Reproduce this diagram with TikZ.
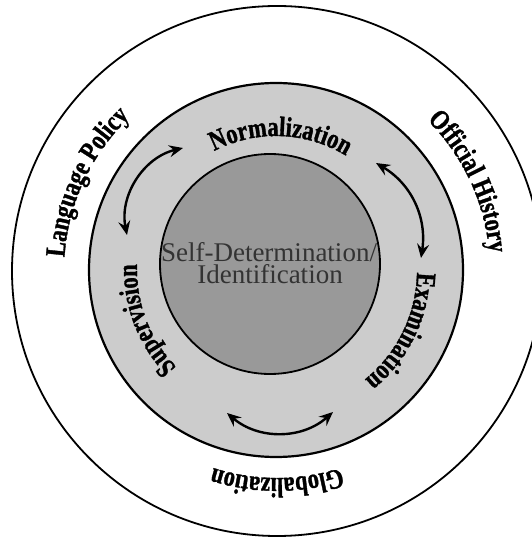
\documentclass[tikz,border=0pt]{standalone}
\usepackage{fontspec}
\setmainfont{Liberation Serif}
\newfontfamily\arcfont{Liberation Serif}[FakeStretch=0.8,FakeBold=1.2]
\newcommand\arctxt{\arcfont\bfseries\fontsize{28}{28}\selectfont}
\usetikzlibrary{decorations.text,arrows.meta}
\begin{document}
\begin{tikzpicture}[x=1pt,y=1pt,
  ring/.style={circle, draw=black, inner sep=0pt, outer sep=0pt},
  arcl/.style={decorate, decoration={text along path, text align=center, text={|\arctxt|#1}}},
  dbl/.style={line width=2.4pt, {Stealth[length=14pt,width=12pt,inset=5pt]}-{Stealth[length=14pt,width=12pt,inset=5pt]}},
  idtext/.style={anchor=base, font=\fontsize{27}{27}\selectfont, text=black!80, inner sep=0pt}
]
\useasboundingbox (0,0) rectangle (532,538);
\clip (0,0) rectangle (532,538);
% rings
\node[ring, line width=1.8pt, fill=white, minimum size=530pt] (outer) at (277,267) {};
\node[ring, line width=2.2pt, fill=black!20, minimum size=374pt] (middle) at (276,268) {};
\node[ring, line width=1.8pt, fill=black!40, minimum size=220pt] (inner) at (270,274) {};
% outer ring labels
\path[arcl={Language Policy}] ([shift={(277,267)}]210:213pt) arc[start angle=210, end angle=100, radius=213pt];
\path[arcl={Official History}] ([shift={(277,267)}]80:213pt) arc[start angle=80, end angle=-30, radius=213pt];
\path[arcl={Globalization}] ([shift={(277,267)}]320:207pt) arc[start angle=320, end angle=220, radius=207pt];
% middle ring labels
\path[arcl={Normalization}] ([shift={(276,268)}]140:134pt) arc[start angle=140, end angle=36, radius=134pt];
\path[arcl={Examination}] ([shift={(276,268)}]25:141pt) arc[start angle=25, end angle=-77, radius=141pt];
\path[arcl={Supervision}] ([shift={(276,268)}]250:139pt) arc[start angle=250, end angle=152, radius=139pt];
% arrows
\coordinate (a1) at (127,303);
\coordinate (a2) at (183,390);
\draw[dbl] (a1) to[bend left=44] (a2);
\coordinate (b1) at (376,375);
\coordinate (b2) at (421,280);
\draw[dbl] (b1) to[bend left=34] (b2);
\coordinate (c1) at (227,125);
\coordinate (c2) at (333,126);
\draw[dbl] (c1) to[bend right=41] (c2);
% centre text
\node[idtext] (t1) at (269,276) {Self-Determination/};
\node[idtext] (t2) at (270,254) {Identification};
\end{tikzpicture}
\end{document}
